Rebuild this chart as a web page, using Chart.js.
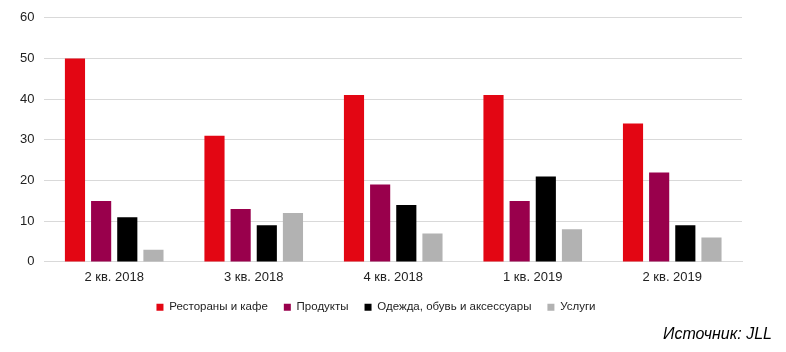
<!DOCTYPE html>
<html lang="ru">
<head>
<meta charset="UTF-8">
<title>Chart</title>
<style>
    body { margin: 0; padding: 0; background: #fff; }
    .chart-box { width: 786px; height: 352px; position: relative; }
</style>
</head>
<body>
<div class="chart-box">
    <canvas id="quarterChart"></canvas>
</div>
<script src="https://cdn.jsdelivr.net/npm/chart.js"></script>
<script>
const quarters = ["2 кв. 2018", "3 кв. 2018", "4 кв. 2018", "1 кв. 2019", "2 кв. 2019"];
const restaurants = [50, 31, 41, 41, 34];
const products = [15, 13, 19, 15, 22];
const clothing = [11, 9, 14, 21, 9];
const services = [3, 12, 7, 8, 6];
const yTicks = [0, 10, 20, 30, 40, 50, 60];

const sourceNote = {
    id: "sourceNote",
    afterDraw(chart) {
        const ctx = chart.ctx;
        ctx.save();
        ctx.font = "italic 16px 'Liberation Sans', Arial, sans-serif";
        ctx.fillStyle = "#000";
        ctx.textAlign = "right";
        ctx.textBaseline = "middle";
        ctx.fillText("Источник: JLL", 772, 335);
        ctx.restore();
    }
};

Chart.defaults.font.family = "'Liberation Sans', Arial, sans-serif";
Chart.defaults.color = "#222";

new Chart(document.getElementById("quarterChart"), {
    type: "bar",
    data: {
        labels: quarters,
        datasets: [
            { label: "Рестораны и кафе", data: restaurants, backgroundColor: "#e30613" },
            { label: "Продукты", data: products, backgroundColor: "#99004c" },
            { label: "Одежда, обувь и аксессуары", data: clothing, backgroundColor: "#000000" },
            { label: "Услуги", data: services, backgroundColor: "#b2b2b2" }
        ]
    },
    options: {
        responsive: true,
        maintainAspectRatio: false,
        animation: false,
        layout: { padding: { left: 10, right: 44, top: 12, bottom: 29 } },
        datasets: { bar: { categoryPercentage: 0.75, barPercentage: 0.77 } },
        plugins: {
            tooltip: { enabled: false },
            legend: {
                position: "bottom",
                labels: {
                    boxWidth: 7,
                    boxHeight: 7,
                    padding: 16,
                    font: { size: 11.5 },
                    color: "#222"
                }
            }
        },
        scales: {
            x: {
                grid: { display: false },
                border: { color: "#d9d9d9" },
                ticks: { font: { size: 13 }, padding: 0 }
            },
            y: {
                min: 0,
                max: 60,
                afterBuildTicks(axis) { axis.ticks = yTicks.map(v => ({ value: v })); },
                grid: { color: "#d9d9d9", drawTicks: false },
                border: { display: false },
                ticks: { font: { size: 13 }, padding: 10 }
            }
        }
    },
    plugins: [sourceNote]
});
</script>
</body>
</html>
